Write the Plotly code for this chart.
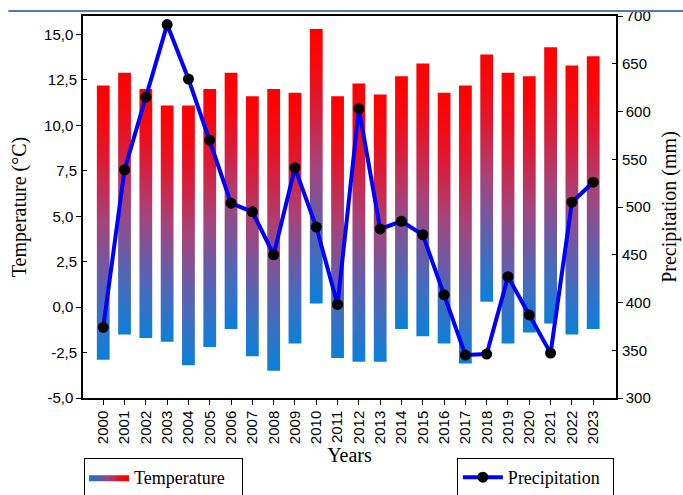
import plotly.graph_objects as go

years = list(range(2000, 2024))
temp_top = [12.2, 12.9, 12.0, 11.1, 11.1, 12.0, 12.9, 11.6, 12.0, 11.8, 15.3, 11.6,
            12.3, 11.7, 12.7, 13.4, 11.8, 12.2, 13.9, 12.9, 12.7, 14.3, 13.3, 13.8]
temp_bottom = [-2.9, -1.5, -1.7, -1.9, -3.2, -2.2, -1.2, -2.7, -3.5, -2.0, 0.2, -2.8,
               -3.0, -3.0, -1.2, -1.6, -2.0, -3.1, 0.3, -2.0, -1.4, -0.9, -1.5, -1.2]
precip = [374, 539, 615, 691, 634, 570, 504, 495, 450, 541, 479, 398,
          603, 477, 485, 471, 408, 345, 346, 427, 387, 347, 505, 526]

temp_major = [-5, 0, 5, 10, 15]
temp_major_text = ["-5,0", "0,0", "5,0", "10,0", "15,0"]
temp_half = [-2.5, 2.5, 7.5, 12.5]
temp_half_text = ["-2,5", "2,5", "7,5", "12,5"]
prec_major = [300, 400, 500, 600, 700]
prec_half = [350, 450, 550, 650]
year_labels = [str(y) for y in years]

BAR_W = 0.6
grad = [[0.0, "#0a80d8"], [0.15, "#3a70c4"], [0.32, "#6d5aa5"], [0.5, "#a5447a"],
        [0.72, "#dd1a35"], [0.86, "#f50a10"], [1.0, "#ff0000"]]
legend_grad = [[0.0, "#0a78d0"], [0.5, "#a0407a"], [0.8, "#f00a10"], [1.0, "#ff0000"]]

fig = go.Figure()
for i, (yr, lo, hi) in enumerate(zip(years, temp_bottom, temp_top)):
    xs = [yr - BAR_W / 2, yr + BAR_W / 2, yr + BAR_W / 2, yr - BAR_W / 2, yr - BAR_W / 2]
    ys = [lo, lo, hi, hi, lo]
    fig.add_trace(go.Scatter(
        x=xs, y=ys, mode="lines", fill="toself",
        fillgradient=dict(type="vertical", colorscale=grad),
        line=dict(width=0, color="rgba(0,0,0,0)"),
        name="Temperature", legendgroup="temp",
        showlegend=False, hoverinfo="skip", yaxis="y"))

# legend-only entry showing horizontal gradient swatch
fig.add_trace(go.Scatter(
    x=[None], y=[None], mode="lines", fill="toself",
    fillgradient=dict(type="horizontal", colorscale=legend_grad),
    line=dict(width=0, color="rgba(0,0,0,0)"),
    name="Temperature", legend="legend", legendgroup="temp", showlegend=True))

# invisible helpers so the overlay tick axes are drawn
fig.add_trace(go.Scatter(x=years, y=temp_top, yaxis="y3", mode="markers",
                         marker=dict(opacity=0), showlegend=False, hoverinfo="skip"))
fig.add_trace(go.Scatter(x=years, y=precip, yaxis="y4", mode="markers",
                         marker=dict(opacity=0), showlegend=False, hoverinfo="skip"))

fig.add_trace(go.Scatter(
    x=years, y=precip, mode="lines+markers", name="Precipitation",
    line=dict(color="#0000ff", width=4),
    marker=dict(color="black", size=11),
    yaxis="y2", legend="legend2"))

tickfont = dict(family="Liberation Sans, Arial", size=15, color="black")
titlefont = dict(family="Liberation Serif, Times New Roman", size=20, color="black")
legfont = dict(family="Liberation Serif, Times New Roman", size=18, color="black")

fig.update_layout(
    width=683, height=495,
    margin=dict(l=83, r=67, t=16, b=97, autoexpand=False),
    paper_bgcolor="white", plot_bgcolor="white",
    xaxis=dict(range=[1999.05, 2024.07], tickvals=years, ticktext=year_labels,
               tickangle=-90, ticks="outside", ticklen=5, tickcolor="black",
               showline=True, linecolor="black", linewidth=1.5, mirror=True,
               showgrid=False, zeroline=False, tickfont=tickfont,
               title=dict(text="Years", font=titlefont, standoff=4)),
    yaxis=dict(range=[-5, 16.02], tickvals=temp_major, ticktext=temp_major_text,
               ticks="outside", ticklen=5, tickcolor="black",
               showline=True, linecolor="black", linewidth=1.5,
               showgrid=False, zeroline=False, tickfont=tickfont,
               title=dict(text="Temperature (°C)", font=titlefont, standoff=12)),
    yaxis3=dict(range=[-5, 16.02], overlaying="y", side="left", anchor="x",
                tickvals=temp_half, ticktext=temp_half_text, ticks="inside",
                ticklen=4, tickcolor="black", ticklabelstandoff=5,
                showline=False, showgrid=False, zeroline=False, tickfont=tickfont),
    yaxis2=dict(range=[300, 700], overlaying="y", side="right", anchor="x",
                tickvals=prec_major, ticks="outside", ticklen=5, tickcolor="black",
                showline=True, linecolor="black", linewidth=1.5,
                showgrid=False, zeroline=False, tickfont=tickfont,
                title=dict(text="Precipitation (mm)", font=titlefont, standoff=12)),
    yaxis4=dict(range=[300, 700], overlaying="y", side="right", anchor="x",
                tickvals=prec_half, ticks="inside", ticklen=4, tickcolor="black",
                ticklabelstandoff=5, showline=False, showgrid=False, zeroline=False,
                tickfont=tickfont),
    legend=dict(x=0.002, xanchor="left", y=-0.157, yanchor="top",
                orientation="h", entrywidth=103, itemwidth=40,
                bordercolor="black", borderwidth=1, bgcolor="white", font=legfont),
    legend2=dict(x=0.996, xanchor="right", y=-0.157, yanchor="top",
                 orientation="h", entrywidth=100, itemwidth=40,
                 bordercolor="black", borderwidth=1, bgcolor="white", font=legfont),
    shapes=[dict(type="line", xref="paper", yref="paper", x0=-0.14, x1=1.13,
                 y0=1.013, y1=1.013, line=dict(color="#5a78b8", width=2))],
)

fig.write_html("out.html")
